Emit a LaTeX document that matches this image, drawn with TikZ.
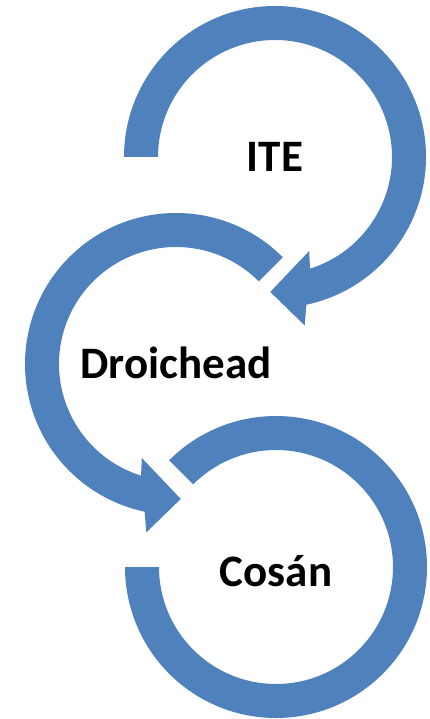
\documentclass[tikz,border=0pt]{standalone}
\usepackage{fontspec}
\setmainfont{Carlito}
\definecolor{ringblue}{HTML}{4F81BD}
\tikzset{
  ring/.style={fill=ringblue},
  word/.style={font=\fontsize{45}{52}\selectfont\bfseries, anchor=base, inner sep=0pt}
}

\begin{document}
\begin{tikzpicture}[x=1pt,y=1pt]
			\useasboundingbox (0,0) rectangle (429,-719);
			\coordinate (C1) at (275,-157);
			\coordinate (C2) at (176,-364);
			\coordinate (C3) at (276,-567);
			
			% first ring, arrow ends under it
			\begin{scope}[shift={(C1)}]
			\fill[ring] (180:151) arc[start angle=180, end angle=-78, radius=151]
			  -- (-80:171) -- (-92:135) -- (-70:100) -- (-72.6:117)
			  arc[start angle=-72.6, end angle=180, radius=117] -- cycle;
			\end{scope}
			% second ring, mirrored
			\begin{scope}[shift={(C2)}]
			\fill[ring] (45:151) arc[start angle=45, end angle=258, radius=151]
			  -- (260:171) -- (272:135) -- (250:100) -- (252.6:117)
			  arc[start angle=252.6, end angle=45, radius=117] -- cycle;
			\end{scope}
			% last ring, no head
			\begin{scope}[shift={(C3)}]
			\fill[ring] (135:151) arc[start angle=135, end angle=-180, radius=151]
			  -- (-180:117) arc[start angle=-180, end angle=135, radius=117] -- cycle;
			\end{scope}
			
			\node[word, yshift=-15pt] (ite) at (C1) {ITE};
			\node[word, yshift=-14.5pt] (droichead) at (C2) {Droichead};
			\node[word, yshift=-19.5pt] (cosan) at (C3) {Cosán};
\end{tikzpicture}
\end{document}
